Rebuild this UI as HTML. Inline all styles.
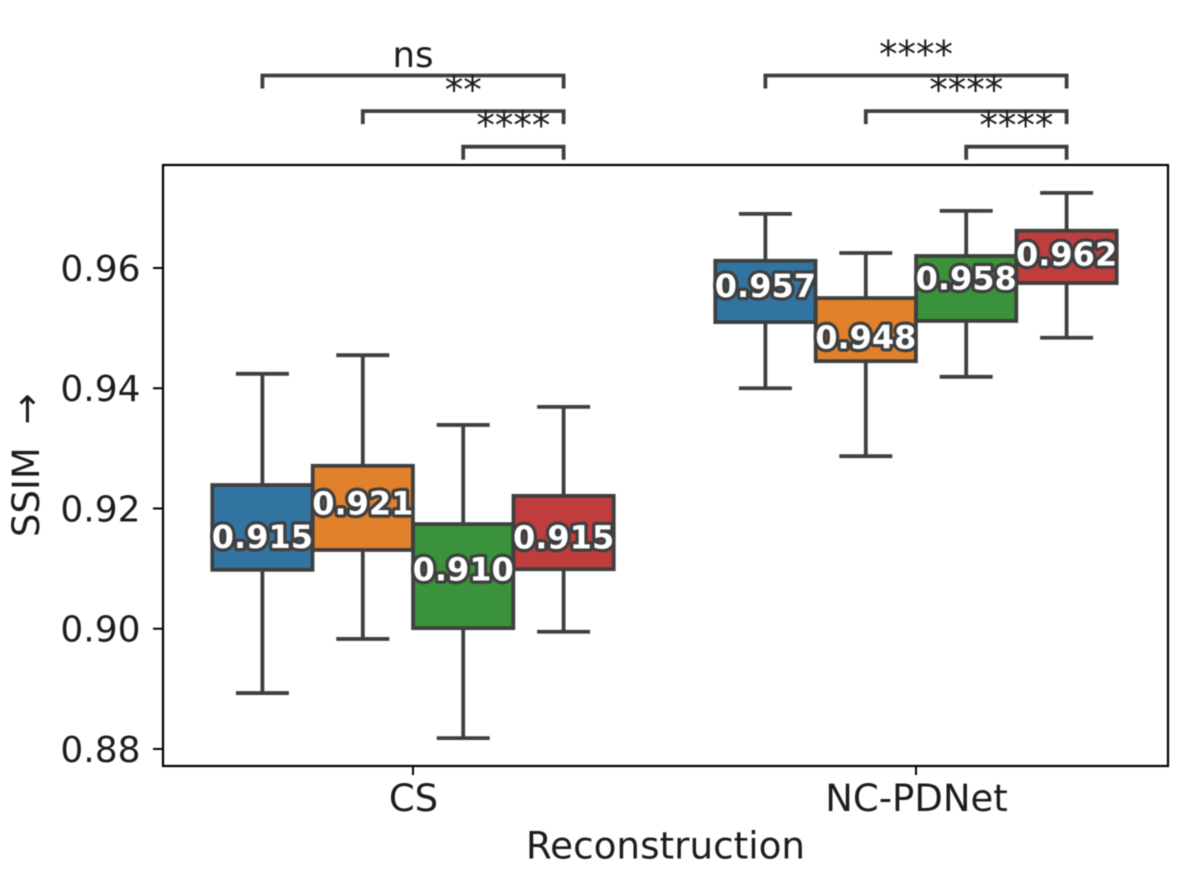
<!DOCTYPE html>
<html>
<head>
<meta charset="utf-8">
<style>
html,body{margin:0;padding:0;background:#fff;width:1196px;height:877px;overflow:hidden}
svg{display:block;filter:blur(0.45px)}
text{font-family:"DejaVu Sans","Liberation Sans",sans-serif;fill:#1c1c1c}
</style>
</head>
<body>
<svg id="chart" width="1196" height="877" viewBox="0 0 1196 877" xmlns="http://www.w3.org/2000/svg">
  <rect x="163" y="165" width="1005" height="601" fill="#fff"/>
  <g id="boxes"></g>
  <g id="labels"></g>
  <g id="brackets"></g>
  <g id="axes"></g>
  <rect x="163" y="165" width="1005" height="601" fill="none" stroke="#000" stroke-width="2.2"/>
  <text x="665.5" y="858.5" font-size="37.3" text-anchor="middle">Reconstruction</text>
  <text x="0" y="0" font-size="37" word-spacing="11" text-anchor="start" transform="translate(39,537) rotate(-90)">SSIM →</text>
</svg>
<script>
const categories = ['CS', 'NC-PDNet'];
const seriesColors = ['#3274a1', '#e1812c', '#3a923a', '#c03d3e'];
const whiskerHigh = [[0.9424, 0.9455, 0.9339, 0.9369], [0.9690, 0.9625, 0.9695, 0.9725]];
const q3Values = [[0.9239, 0.9271, 0.9174, 0.9221], [0.9612, 0.9550, 0.9620, 0.9662]];
const medianValues = [[0.9153, 0.9209, 0.9099, 0.9152], [0.9570, 0.9485, 0.9583, 0.9623]];
const q1Values = [[0.9098, 0.9131, 0.9001, 0.9099], [0.9510, 0.9445, 0.9512, 0.9575]];
const whiskerLow = [[0.8893, 0.8983, 0.8818, 0.8995], [0.9400, 0.9287, 0.9419, 0.9484]];
const medianLabels = [['0.915', '0.921', '0.910', '0.915'], ['0.957', '0.948', '0.958', '0.962']];
const yTicks = [0.88, 0.90, 0.92, 0.94, 0.96];
const yTickLabels = ['0.88', '0.90', '0.92', '0.94', '0.96'];
const bracketStarts = [0, 1, 2];
const bracketEnd = 3;
const bracketLabels = [['ns', '**', '****'], ['****', '****', '****']];

const NS = 'http://www.w3.org/2000/svg';
const INK = '#3f3f3f';

function yScale(v) { return 268 + (0.96 - v) * 6012; }
function catX(c) { return 413 + c * 503; }
function boxX(c, s) { return catX(c) + (s - 1.5) * 100.4; }

function make(tag, attrs, parent) {
  const el = document.createElementNS(NS, tag);
  for (const k in attrs) el.setAttribute(k, attrs[k]);
  parent.appendChild(el);
  return el;
}

const boxesG = document.getElementById('boxes');
const labelsG = document.getElementById('labels');
const bracketsG = document.getElementById('brackets');
const axesG = document.getElementById('axes');
const boxW = 100.2;
const capW = 53;
const lineAttrs = { stroke: INK, 'stroke-width': 3.8, fill: 'none' };

categories.forEach(function (cat, c) {
  seriesColors.forEach(function (color, s) {
    const x = boxX(c, s);
    const g = make('g', {}, boxesG);
    
    

    const upper = make('line', Object.assign({ x1: x, x2: x, y1: yScale(q3Values[c][s]), y2: yScale(whiskerHigh[c][s]) }, lineAttrs), g);
    
    

    const lower = make('line', Object.assign({ x1: x, x2: x, y1: yScale(q1Values[c][s]), y2: yScale(whiskerLow[c][s]) }, lineAttrs), g);
    
    

    const capHigh = make('line', Object.assign({ x1: x - capW / 2, x2: x + capW / 2, y1: yScale(whiskerHigh[c][s]), y2: yScale(whiskerHigh[c][s]) }, lineAttrs), g);
    
    

    const capLow = make('line', Object.assign({ x1: x - capW / 2, x2: x + capW / 2, y1: yScale(whiskerLow[c][s]), y2: yScale(whiskerLow[c][s]) }, lineAttrs), g);
    
    

    const rect = make('rect', {
      x: x - boxW / 2,
      y: yScale(q3Values[c][s]),
      width: boxW,
      height: yScale(q1Values[c][s]) - yScale(q3Values[c][s]),
      fill: color,
      stroke: INK,
      'stroke-width': 3.8
    }, g);
    
    

    const t = make('text', {
      x: x,
      y: yScale(medianValues[c][s]) + 11.2,
      'font-size': 32,
      'font-weight': 'bold',
      'text-anchor': 'middle',
      stroke: INK,
      'stroke-width': 6.5,
      'stroke-linejoin': 'round',
      'paint-order': 'stroke',
      style: 'fill:#fff'
    }, labelsG);
    
    
    t.textContent = medianLabels[c][s];
  });

  bracketStarts.forEach(function (start, i) {
    const x1 = boxX(c, start);
    const x2 = boxX(c, bracketEnd);
    const top = 75.5 + i * 35.6;
    const b = make('path', {
      d: 'M' + x1 + ' ' + (top + 13) + 'V' + top + 'H' + x2 + 'V' + (top + 13),
      fill: 'none',
      stroke: INK,
      'stroke-width': 3.8
    }, bracketsG);
    
    

    const t = make('text', {
      x: (x1 + x2) / 2,
      y: top - 8.5,
      'font-size': bracketLabels[c][i] === 'ns' ? 35.5 : 37,
      'text-anchor': 'middle'
    }, bracketsG);
    
    
    t.textContent = bracketLabels[c][i];
  });

  const tick = make('line', { x1: catX(c), x2: catX(c), y1: 766, y2: 775, stroke: '#000', 'stroke-width': 2 }, axesG);
  
  

  const label = make('text', { x: catX(c) + 0.5, y: 811, 'font-size': 37, 'text-anchor': 'middle' }, axesG);
  
  
  label.textContent = cat;
});

yTicks.forEach(function (v, i) {
  const y = yScale(v);
  const tick = make('line', { x1: 153, x2: 163, y1: y, y2: y, stroke: '#000', 'stroke-width': 2 }, axesG);
  
  

  const label = make('text', { x: 140.5, y: y + 13, 'font-size': 36, 'text-anchor': 'end' }, axesG);
  
  
  label.textContent = yTickLabels[i];
});
</script>
</body>
</html>
